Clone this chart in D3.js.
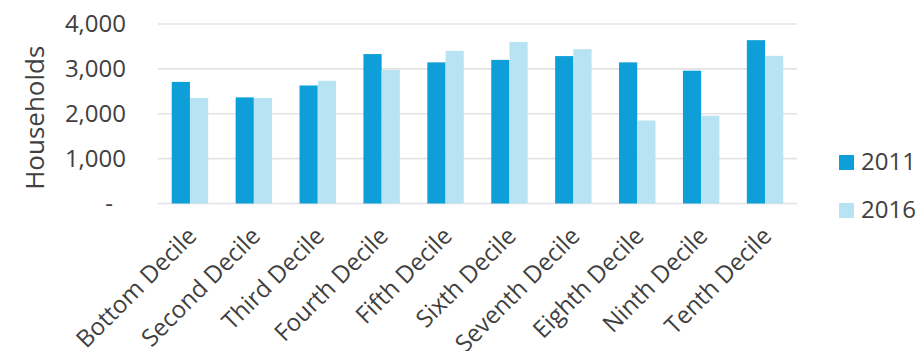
<!DOCTYPE html>
<html>
<head>
<meta charset="utf-8">
<script src="https://cdn.jsdelivr.net/npm/d3@7"></script>
<style>
  html, body { margin: 0; padding: 0; background: #fff; }
  svg { display: block; font-family: "Open Sans", sans-serif; }
</style>
</head>
<body>
<svg id="chart" width="918" height="351"></svg>
<script>
// Households by income decile, 2011 vs 2016
const categories = ["Bottom Decile", "Second Decile", "Third Decile", "Fourth Decile", "Fifth Decile",
  "Sixth Decile", "Seventh Decile", "Eighth Decile", "Ninth Decile", "Tenth Decile"];
const seriesNames = ["2011", "2016"];
const values2011 = [2710, 2365, 2630, 3330, 3145, 3200, 3285, 3145, 2960, 3640];
const values2016 = [2350, 2350, 2735, 2975, 3400, 3600, 3440, 1850, 1955, 3290];
const yTicks = [0, 1000, 2000, 3000, 4000];
const colors = ["#0E9FD9", "#B8E3F3"];

const seriesValues = [values2011, values2016];
const svg = d3.select("#chart");
const plot = { left: 158, right: 797, top: 24, bottom: 203.5 };
const textColor = "#404040";
const fontSize = "24px";

const x = d3.scaleBand().domain(categories).range([plot.left, plot.right]).paddingInner(0.43).paddingOuter(0.215);
const xs = d3.scaleBand().domain(seriesNames).range([0, x.bandwidth()]);
const y = d3.scaleLinear().domain([0, 4000]).range([plot.bottom, plot.top]);

// horizontal gridlines
svg.append("g").selectAll("line").data(yTicks).join("line")
  .attr("x1", plot.left).attr("x2", plot.right)
  .attr("y1", d => y(d)).attr("y2", d => y(d))
  .attr("stroke", "#E3E3E3").attr("stroke-width", 1.6);

// y tick labels
const yAxis = d3.axisLeft(y).tickValues(yTicks).tickSize(0).tickPadding(0)
  .tickFormat(d => d === 0 ? "-" : d3.format(",")(d));
const ya = svg.append("g").attr("transform", `translate(126,0)`).call(yAxis);
ya.select(".domain").remove();
ya.selectAll("text").attr("fill", textColor).style("font-size", fontSize)
  .style("font-family", "'Open Sans', sans-serif");
ya.selectAll(".tick").filter(d => d === 0).select("text").attr("dx", "-13");

// y axis title
svg.append("text")
  .attr("transform", `translate(44,${(plot.top + plot.bottom) / 2 + 4}) rotate(-90)`)
  .attr("text-anchor", "middle").attr("fill", textColor).style("font-size", "26px")
  .text("Households");

// bars
const groups = svg.append("g").selectAll("g").data(categories).join("g")
  .attr("transform", d => `translate(${x(d)},0)`);
groups.selectAll("rect").data((c, i) => seriesNames.map((s, k) => ({ s, v: seriesValues[k][i], k })))
  .join("rect")
  .attr("x", d => xs(d.s)).attr("width", xs.bandwidth())
  .attr("y", d => y(d.v)).attr("height", d => y(0) - y(d.v))
  .attr("fill", d => colors[d.k]);

// x labels
const xAxis = d3.axisBottom(x).tickSize(0).tickPadding(0);
const xa = svg.append("g").attr("transform", `translate(0,${plot.bottom})`).call(xAxis);
xa.select(".domain").remove();
xa.selectAll("text")
  .attr("fill", textColor).style("font-size", fontSize)
  .style("font-family", "'Open Sans', sans-serif")
  .attr("text-anchor", "end")
  .attr("dy", null).attr("y", 0)
  .attr("transform", "translate(8,34) rotate(-45)");

// legend
const legend = svg.append("g").selectAll("g").data(seriesNames).join("g")
  .attr("transform", (d, i) => `translate(839,${155 + i * 48})`);
legend.append("rect").attr("width", 15).attr("height", 15).attr("fill", (d, i) => colors[i]);
legend.append("text").attr("x", 22).attr("y", 15).attr("fill", textColor)
  .style("font-size", fontSize).text(d => d);
</script>
</body>
</html>
